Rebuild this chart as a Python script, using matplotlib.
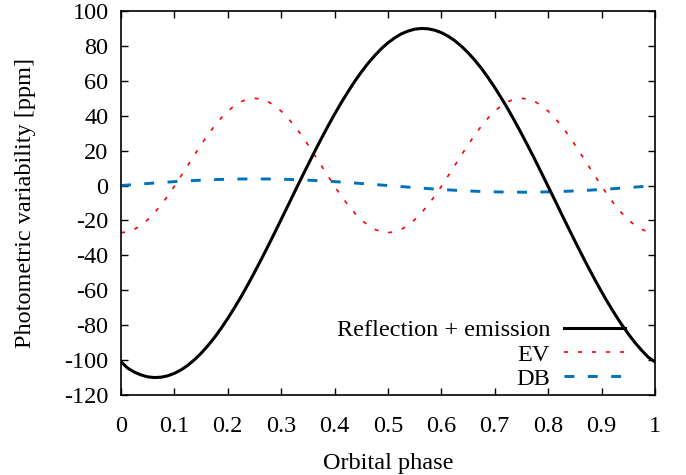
import matplotlib
matplotlib.use("Agg")
import matplotlib.pyplot as plt

plt.rcParams['font.family'] = ['Liberation Serif', 'DejaVu Serif']
plt.rcParams['axes.unicode_minus'] = False

phase = [0.0000, 0.0125, 0.0250, 0.0375, 0.0500, 0.0625, 0.0750, 0.0875, 0.1000, 0.1125,
         0.1250, 0.1375, 0.1500, 0.1625, 0.1750, 0.1875, 0.2000, 0.2125, 0.2250, 0.2375,
         0.2500, 0.2625, 0.2750, 0.2875, 0.3000, 0.3125, 0.3250, 0.3375, 0.3500, 0.3625,
         0.3750, 0.3875, 0.4000, 0.4125, 0.4250, 0.4375, 0.4500, 0.4625, 0.4750, 0.4875,
         0.5000, 0.5125, 0.5250, 0.5375, 0.5500, 0.5625, 0.5750, 0.5875, 0.6000, 0.6125,
         0.6250, 0.6375, 0.6500, 0.6625, 0.6750, 0.6875, 0.7000, 0.7125, 0.7250, 0.7375,
         0.7500, 0.7625, 0.7750, 0.7875, 0.8000, 0.8125, 0.8250, 0.8375, 0.8500, 0.8625,
         0.8750, 0.8875, 0.9000, 0.9125, 0.9250, 0.9375, 0.9500, 0.9625, 0.9750, 0.9875,
         1.0000]

reflection_emission = [
    -101.0, -104.6, -106.9, -108.5, -109.6, -110.0, -109.8, -109.0, -107.6, -105.6,
    -103.0, -99.8, -96.1, -91.8, -87.1, -81.8, -76.1, -70.0, -63.6, -56.8,
    -49.7, -42.4, -34.9, -27.2, -19.4, -11.6, -3.7, 4.1, 11.8, 19.4,
    26.8, 34.0, 40.9, 47.5, 53.7, 59.6, 65.0, 70.0, 74.4, 78.4,
    81.8, 84.6, 86.9, 88.5, 89.6, 90.0, 89.8, 89.0, 87.6, 85.6,
    83.0, 79.8, 76.1, 71.8, 67.1, 61.8, 56.1, 50.0, 43.6, 36.8,
    29.7, 22.4, 14.9, 7.2, -0.6, -8.4, -16.3, -24.1, -31.8, -39.4,
    -46.8, -54.0, -60.9, -67.5, -73.7, -79.6, -85.0, -90.0, -94.4, -98.4,
    -101.0]

ev = [
    -27.0, -26.5, -25.1, -22.8, -19.6, -15.7, -11.1, -6.0, -0.4, 5.5,
    11.5, 17.5, 23.4, 29.0, 34.1, 38.7, 42.6, 45.8, 48.1, 49.5,
    50.0, 49.5, 48.1, 45.8, 42.6, 38.7, 34.1, 29.0, 23.4, 17.5,
    11.5, 5.5, -0.4, -6.0, -11.1, -15.7, -19.6, -22.8, -25.1, -26.5,
    -27.0, -26.5, -25.1, -22.8, -19.6, -15.7, -11.1, -6.0, -0.4, 5.5,
    11.5, 17.5, 23.4, 29.0, 34.1, 38.7, 42.6, 45.8, 48.1, 49.5,
    50.0, 49.5, 48.1, 45.8, 42.6, 38.7, 34.1, 29.0, 23.4, 17.5,
    11.5, 5.5, -0.4, -6.0, -11.1, -15.7, -19.6, -22.8, -25.1, -26.5,
    -27.0]

db = [
    0.00, 0.30, 0.59, 0.89, 1.17, 1.45, 1.73, 1.99, 2.23, 2.47,
    2.69, 2.89, 3.07, 3.24, 3.39, 3.51, 3.61, 3.70, 3.75, 3.79,
    3.80, 3.79, 3.75, 3.70, 3.61, 3.51, 3.39, 3.24, 3.07, 2.89,
    2.69, 2.47, 2.23, 1.99, 1.73, 1.45, 1.17, 0.89, 0.59, 0.30,
    0.00, -0.30, -0.59, -0.89, -1.17, -1.45, -1.73, -1.99, -2.23, -2.47,
    -2.69, -2.89, -3.07, -3.24, -3.39, -3.51, -3.61, -3.70, -3.75, -3.79,
    -3.80, -3.79, -3.75, -3.70, -3.61, -3.51, -3.39, -3.24, -3.07, -2.89,
    -2.69, -2.47, -2.23, -1.99, -1.73, -1.45, -1.17, -0.89, -0.59, -0.30,
    0.00]

labels = ["Reflection + emission", "EV", "DB"]
xticks = [0, 0.1, 0.2, 0.3, 0.4, 0.5, 0.6, 0.7, 0.8, 0.9, 1]
xticklabels = ["0", "0.1", "0.2", "0.3", "0.4", "0.5", "0.6", "0.7", "0.8", "0.9", "1"]
yticks = [-120, -100, -80, -60, -40, -20, 0, 20, 40, 60, 80, 100]

FS = 17.5

fig = plt.figure(figsize=(6.86, 4.75), dpi=100)
ax = fig.add_axes([121/686, 1 - 395/475, (655-121)/686, (395-11)/475])

ax.plot(phase, reflection_emission, color='black', lw=2.2, label=labels[0], zorder=3)
ax.plot(phase, ev, color='#ff0000', lw=1.2, linestyle=(0, (2.4, 6.0)), label=labels[1], zorder=2)
ax.plot(phase, db, color='#0072bd', lw=2.1, linestyle=(0, (3.4, 4.6)), label=labels[2], zorder=2)

ax.set_xlim(0, 1)
ax.set_ylim(-120, 100)
ax.set_xticks(xticks)
ax.set_xticklabels(xticklabels)
ax.set_yticks(yticks)
ax.tick_params(direction='in', length=5, width=1, top=True, right=True, labelsize=FS, colors='black')
ax.tick_params(axis='y', pad=9)
ax.tick_params(axis='x', pad=15)
for s in ax.spines.values():
    s.set_linewidth(1.2)

ax.set_xlabel("Orbital phase", fontsize=FS, labelpad=11.5)
ax.set_ylabel("Photometric variability [ppm]", fontsize=FS, labelpad=20.5)

leg = ax.legend(loc='lower right', bbox_to_anchor=((625-121)/534, (395-390)/384),
                frameon=False, markerfirst=False, fontsize=FS, handlelength=2.5,
                handletextpad=0.58, labelspacing=0.1, borderpad=0, borderaxespad=0)

fig.savefig("out.png", dpi=100)
